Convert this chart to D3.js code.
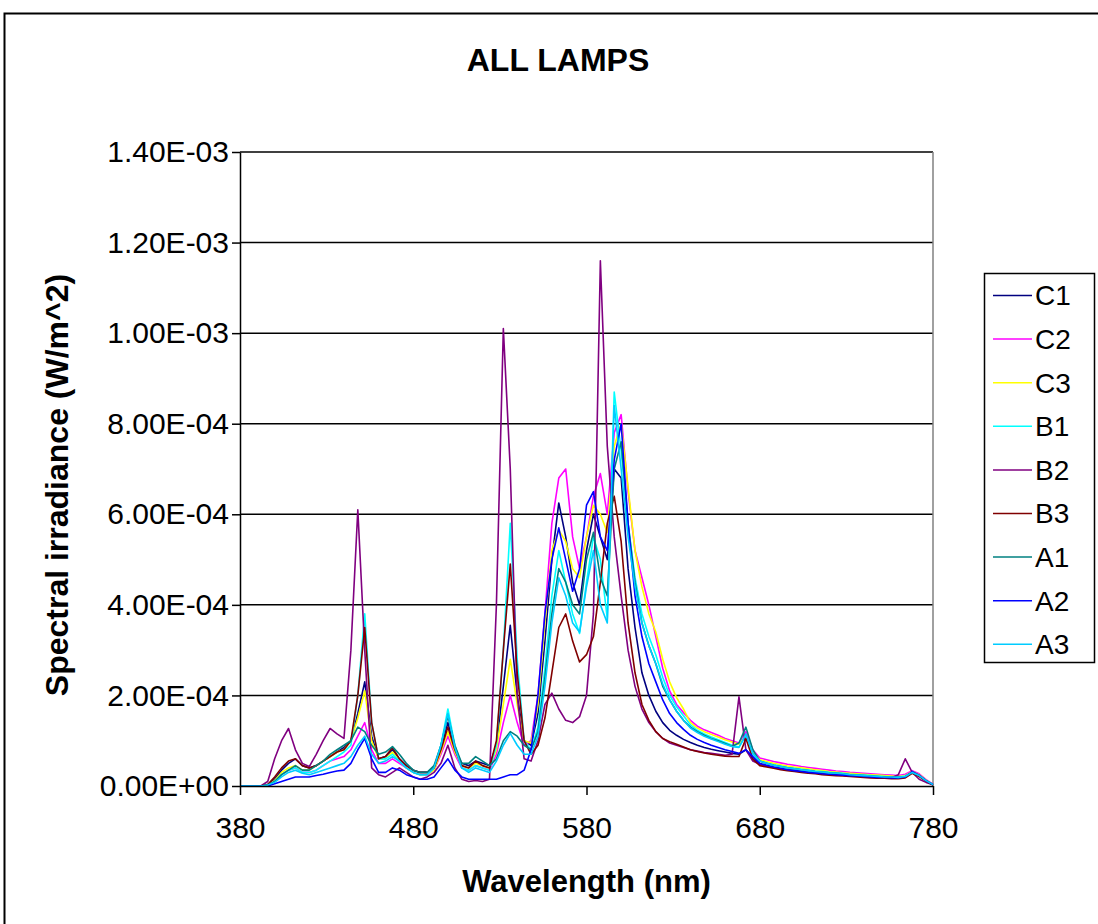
<!DOCTYPE html>
<html>
<head>
<meta charset="utf-8">
<style>
    body { margin: 0; background: #fff; }
    text { font-family: "Liberation Sans", Arial, sans-serif; fill: #000; }
</style>
</head>
<body>
<script src="https://d3js.org/d3.v7.min.js"></script>
<div id="main"></div>
<script>
    // wavelength grid in nm (4 nm sampling)
    var wavelengths = d3.range(380, 781, 4);

    // spectral irradiance, in units of 1e-5 W/m^2, one value per wavelength
    // each line of 10 values covers 40 nm (380-416, 420-456, ...)
    var UNIT = 1e-5;

    var c1 = [0, 0, 0, 0, 0.3, 1.5, 3.5, 5, 6, 4.5,
        4, 4.5, 5.5, 6.5, 7.5, 8.5, 10, 16, 23, 11,
        6, 6.5, 8, 6, 4.5, 3.5, 3, 3, 4, 8,
        14, 8, 5, 4.5, 5.5, 5, 4.5, 9, 22, 35.5,
        20, 10, 9, 16, 32, 50, 62.5, 55, 45, 40,
        52, 60, 55, 50, 70, 68, 48, 35, 25, 20,
        16.5, 14, 12.3, 11.2, 10.3, 9.6, 9, 8.5, 8.1, 7.8,
        7.5, 7.2, 7, 8, 6, 4.8, 4.4, 4.1, 3.8, 3.6,
        3.4, 3.2, 3.0, 2.9, 2.7, 2.6, 2.5, 2.4, 2.3, 2.2,
        2.1, 2.0, 1.9, 1.9, 1.8, 1.8, 2.0, 3.0, 2.3, 1.2,
        0.3];

    var c2 = [0, 0, 0, 0, 0.2, 1, 2.5, 3.5, 4, 3,
        3, 3.5, 4.5, 5.5, 6, 6.5, 8, 11, 14, 8,
        5, 5, 6, 5, 4, 3, 2.5, 2.5, 3.5, 7,
        11, 7, 4, 3.5, 4.5, 4, 3.5, 7, 14, 20,
        14, 9, 10, 20, 38, 58, 68, 70, 55, 48,
        55, 64, 69, 60, 78, 82, 65, 52, 46, 40,
        33, 26, 21, 18, 16.2, 14.5, 13.2, 12.4, 11.8, 11.2,
        10.5, 10, 9.5, 12, 8, 6.2, 5.8, 5.4, 5.1, 4.8,
        4.6, 4.3, 4.1, 3.9, 3.7, 3.5, 3.3, 3.2, 3.0, 2.9,
        2.8, 2.7, 2.6, 2.5, 2.4, 2.3, 2.6, 3.4, 2.7, 1.4,
        0.4];

    var c3 = [0, 0, 0, 0, 0.2, 1.2, 3, 4, 4.5, 3.5,
        3.5, 4.5, 5.5, 6.5, 7.5, 8, 10, 15, 21, 10,
        6, 6, 7.5, 5.5, 4, 3, 2.5, 2.5, 3.5, 7.5,
        12, 7.5, 4.5, 4, 5, 4.5, 4, 8, 18, 28,
        18, 10, 9.5, 18, 36, 52, 56.5, 54, 48, 46,
        55, 62, 60, 56, 75, 80, 66, 52, 44, 38,
        34, 28, 23, 19.5, 17, 14, 12.8, 12, 11.4, 10.8,
        10.2, 9.7, 9.2, 11, 7.5, 5.8, 5.4, 5.0, 4.7, 4.4,
        4.2, 4.0, 3.8, 3.6, 3.4, 3.2, 3.1, 2.9, 2.8, 2.7,
        2.6, 2.5, 2.4, 2.3, 2.2, 2.1, 2.3, 3.2, 2.5, 1.3,
        0.3];

    var b1 = [0, 0, 0, 0, 0.2, 1, 2.5, 3.5, 4, 3,
        3, 3.5, 4.5, 5.5, 6.5, 7.5, 9, 20, 38, 14,
        6, 6, 7, 5.5, 4, 3, 2.5, 2.5, 4, 9,
        17, 9, 4, 3.5, 4.5, 4, 3.5, 9, 30, 58,
        28, 10, 8, 13, 26, 42, 52, 45, 38, 33.7,
        45, 55, 50, 37, 87, 74, 58, 46, 38, 33,
        29, 24, 20, 17.5, 15.5, 13.5, 12.3, 11.5, 10.8, 10.2,
        9.6, 9, 8.6, 11, 7, 5.5, 5.1, 4.7, 4.4, 4.1,
        3.9, 3.7, 3.5, 3.3, 3.2, 3.0, 2.9, 2.8, 2.6, 2.5,
        2.4, 2.3, 2.2, 2.1, 2.0, 2.0, 2.2, 3.0, 2.3, 1.2,
        0.3];

    var b2 = [0, 0, 0, 0, 1, 6, 10, 12.7, 8, 5,
        4.3, 7, 10, 12.7, 11.5, 10.5, 30, 61, 30, 4,
        2.5, 2, 3, 4, 3, 2, 1.5, 2, 3, 5,
        9, 4, 1.5, 1, 1.2, 1, 1.5, 40, 101, 70,
        20, 6, 5.5, 10, 18, 20.5, 17, 14.5, 14, 15.3,
        20, 38, 116, 75, 55, 42, 30, 22, 17, 14,
        12, 10.5, 9.5, 9, 8.5, 8, 7.7, 7.4, 7.2, 7,
        6.8, 7, 19.7, 8, 5.5, 4.8, 4.4, 4.1, 3.8, 3.6,
        3.4, 3.2, 3.0, 2.9, 2.7, 2.6, 2.5, 2.4, 2.3, 2.2,
        2.1, 2.0, 1.9, 1.9, 1.8, 2.5, 6, 3, 1.5, 0.8,
        0.3];

    var b3 = [0, 0, 0, 0, 0.3, 2, 4, 5.5, 6, 4.5,
        4, 4.5, 5.5, 6.5, 7.5, 8, 10, 20, 35, 14,
        6, 6.5, 8.5, 6, 4.5, 3.5, 3, 3, 4, 8,
        13, 8, 4.5, 4, 5.5, 4.5, 4, 10, 30, 49,
        25, 10, 7, 9, 15, 25, 35, 38, 32, 27.4,
        29, 33, 45, 58, 64, 54, 36, 25, 18, 14.5,
        12, 10.5, 9.8, 9.2, 8.6, 8, 7.6, 7.3, 7, 6.8,
        6.6, 6.5, 6.5, 10.5, 6, 4.5, 4.2, 3.9, 3.6, 3.4,
        3.2, 3.0, 2.8, 2.7, 2.5, 2.4, 2.3, 2.2, 2.1, 2.0,
        1.9, 1.8, 1.7, 1.7, 1.6, 1.6, 1.8, 2.8, 2.1, 1.1,
        0.2];

    var a1 = [0, 0, 0, 0, 0.2, 1, 2.5, 3.5, 4.5, 3.5,
        3.5, 4.5, 5.5, 7, 8, 9, 10, 13, 12, 9,
        7, 7.5, 8.7, 7, 5, 3.5, 3, 3, 4.5, 9,
        15.5, 9, 5, 5, 6.5, 5.5, 4.5, 6, 10, 12,
        11, 9, 8, 12, 24, 38, 48, 45, 40, 38,
        50, 56, 46, 42, 70, 76, 58, 45, 36, 31,
        27, 22, 19, 16.5, 14.5, 13, 12, 11.2, 10.5, 10,
        9.4, 8.8, 9.5, 13, 8, 5.5, 5, 4.6, 4.3, 4.0,
        3.8, 3.6, 3.4, 3.2, 3.1, 2.9, 2.8, 2.7, 2.5, 2.4,
        2.3, 2.2, 2.1, 2.0, 2.0, 1.9, 2.1, 3.0, 2.3, 1.2,
        0.3];

    var a2 = [0, 0, 0, 0, 0, 0.5, 1, 1.5, 2, 2,
        2, 2.3, 2.6, 3, 3.3, 3.5, 5, 8, 10.5, 6,
        3, 3, 4, 3.5, 2.5, 2, 1.5, 1.5, 2, 4,
        6, 3.5, 2, 1.5, 1.5, 1.5, 1.5, 1.5, 2, 2.5,
        2.5, 3.5, 8, 20, 38, 50, 57, 50, 43, 48,
        62, 65, 55, 52, 72, 80, 58, 42, 33, 27,
        23, 19, 16, 14, 12.5, 11.2, 10.3, 9.6, 9, 8.5,
        8, 7.6, 7.2, 8, 6.5, 5, 4.6, 4.2, 3.9, 3.6,
        3.4, 3.2, 3.0, 2.9, 2.7, 2.6, 2.5, 2.4, 2.3, 2.2,
        2.1, 2.0, 1.9, 1.9, 1.8, 1.8, 2.0, 3.2, 2.4, 1.2,
        0.3];

    var a3 = [0, 0, 0, 0, 0.2, 0.8, 2, 3, 3.5, 2.8,
        2.5, 3, 3.5, 4, 4.5, 5, 6.5, 9, 11, 7,
        5, 5.5, 6.5, 5.5, 4, 3, 2.5, 2.5, 4, 9,
        16, 8.5, 4, 3, 4, 3.5, 3, 5.5, 9, 11.6,
        9, 7, 7, 11, 22, 36, 46, 42, 36, 34,
        44, 52, 40, 36, 84, 70, 55, 44, 36, 31,
        27, 22.5, 19, 16.5, 14.5, 12.8, 11.8, 11, 10.4, 9.8,
        9.2, 8.7, 8.5, 11.5, 7.2, 5.5, 5, 4.6, 4.3, 4.0,
        3.8, 3.6, 3.4, 3.2, 3.1, 2.9, 2.8, 2.7, 2.5, 2.4,
        2.3, 2.2, 2.1, 2.0, 2.0, 1.9, 2.1, 3.0, 2.3, 1.2,
        0.3];

    var seriesNames = ["C1", "C2", "C3", "B1", "B2", "B3", "A1", "A2", "A3"];
    var seriesValues = [c1, c2, c3, b1, b2, b3, a1, a2, a3];
    var seriesColors = ["#000080", "#FF00FF", "#FFFF00", "#00FFFF", "#800080",
        "#800000", "#008080", "#0000FF", "#00CCFF"];

    var xTicks = [380, 480, 580, 680, 780];
    var yTicks = [0, 2e-4, 4e-4, 6e-4, 8e-4, 1e-3, 1.2e-3, 1.4e-3];
    var yTickLabels = ["0.00E+00", "2.00E-04", "4.00E-04", "6.00E-04", "8.00E-04",
        "1.00E-03", "1.20E-03", "1.40E-03"];

    // plot area
    var plot = { left: 240, right: 933, top: 152, bottom: 786 };

    var svg = d3.select("#main")
        .append("svg")
        .attr("width", 1098)
        .attr("height", 924)
        .style("display", "block");

    // chart border (runs off the right and bottom edge)
    svg.append("rect")
        .attr("x", 4.5)
        .attr("y", 13.5)
        .attr("width", 1200)
        .attr("height", 1000)
        .style("fill", "#fff")
        .style("stroke", "#000")
        .style("stroke-width", 2);

    var x = d3.scaleLinear()
        .domain([380, 780])
        .range([plot.left, plot.right]);

    var y = d3.scaleLinear()
        .domain([0, 1.4e-3])
        .range([plot.bottom, plot.top]);

    // gridlines
    svg.append("g")
        .selectAll("line")
        .data(yTicks.slice(1))
        .enter()
        .append("line")
        .attr("x1", plot.left)
        .attr("x2", plot.right)
        .attr("y1", function (d) { return y(d); })
        .attr("y2", function (d) { return y(d); })
        .style("stroke", "#000")
        .style("stroke-width", 1.5);

    // right edge of plot area
    svg.append("line")
        .attr("x1", plot.right)
        .attr("x2", plot.right)
        .attr("y1", plot.top)
        .attr("y2", plot.bottom)
        .style("stroke", "#808080")
        .style("stroke-width", 1.5);

    // series
    var line = d3.line()
        .x(function (d, i) { return x(wavelengths[i]); })
        .y(function (d) { return y(d * UNIT); });

    svg.append("g")
        .selectAll("path")
        .data(seriesValues)
        .enter()
        .append("path")
        .attr("d", function (d) { return line(d); })
        .style("fill", "none")
        .style("stroke", function (d, i) { return seriesColors[i]; })
        .style("stroke-width", 1.6)
        .style("stroke-linejoin", "round");

    // axes
    svg.append("g")
        .attr("transform", "translate(" + plot.left + ",0)")
        .call(d3.axisLeft(y)
            .tickValues(yTicks)
            .tickFormat(function (d, i) { return yTickLabels[i]; })
            .tickSize(8)
            .tickSizeOuter(0)
            .tickPadding(3));

    svg.append("g")
        .attr("transform", "translate(0," + plot.bottom + ")")
        .call(d3.axisBottom(x)
            .tickValues(xTicks)
            .tickSize(9)
            .tickSizeOuter(0)
            .tickPadding(22));

    svg.selectAll(".domain").style("stroke", "#000").style("stroke-width", 1.5);
    svg.selectAll(".tick line").style("stroke", "#000").style("stroke-width", 1.5);
    svg.selectAll(".tick text")
        .style("font-family", "'Liberation Sans', Arial, sans-serif")
        .style("font-size", "30px")
        .style("fill", "#000");

    // title
    svg.append("text")
        .attr("x", 558)
        .attr("y", 71)
        .style("text-anchor", "middle")
        .style("font-weight", "bold")
        .style("font-size", "32px")
        .text("ALL LAMPS");

    // x axis label
    svg.append("text")
        .attr("x", (plot.left + plot.right) / 2)
        .attr("y", 892)
        .style("text-anchor", "middle")
        .style("font-weight", "bold")
        .style("font-size", "31px")
        .text("Wavelength (nm)");

    // y axis label
    svg.append("text")
        .attr("transform", "translate(68," + ((plot.top + plot.bottom) / 2 + 16) + ") rotate(-90)")
        .style("text-anchor", "middle")
        .style("font-weight", "bold")
        .style("font-size", "32px")
        .text("Spectral irradiance (W/m^2)");

    // legend
    var legend = svg.append("g");
    legend.append("rect")
        .attr("x", 984.5)
        .attr("y", 273.5)
        .attr("width", 110)
        .attr("height", 389)
        .style("fill", "#fff")
        .style("stroke", "#000")
        .style("stroke-width", 1.5);

    var item = legend.selectAll(".item")
        .data(seriesNames)
        .enter()
        .append("g")
        .attr("class", "item")
        .attr("transform", function (d, i) { return "translate(0," + (295.5 + i * 43.6) + ")"; });

    item.append("line")
        .attr("x1", 993)
        .attr("x2", 1032)
        .style("stroke", function (d, i) { return seriesColors[i]; })
        .style("stroke-width", 1.5);

    item.append("text")
        .attr("x", 1035)
        .attr("dy", "0.35em")
        .style("font-size", "28px")
        .text(function (d) { return d; });
</script>
</body>
</html>
